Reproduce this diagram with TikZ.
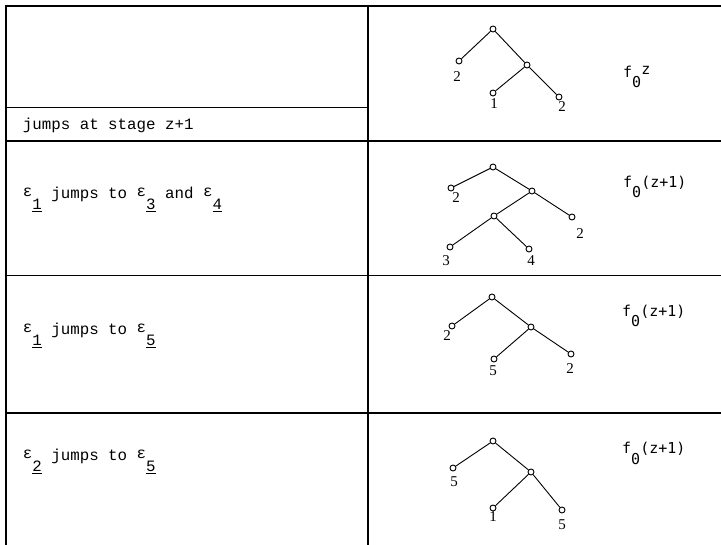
\documentclass[tikz,border=0pt]{standalone}
\usepackage{fontspec}
\setmainfont{Liberation Serif}
\newfontfamily\rowfont{Liberation Mono}
\newfontfamily\gfont{DejaVu Sans Mono}
\usepackage{tikz}
\usetikzlibrary{positioning}
\newcommand{\epsub}[1]{\makebox[0.6em][l]{\raisebox{2pt}{ε}}\raisebox{-11pt}{\underline{#1}}}
\newcommand{\fzero}[1]{f\raisebox{-10pt}{0}#1}
\tikzset{
  vtx/.style={draw, circle, inner sep=0pt, minimum size=6pt, line width=0.9pt, fill=white},
  branch/.style={line width=0.9pt},
  leafnum/.style={inner sep=0pt, font=\fontsize{15}{15}\selectfont},
  rowtext/.style={anchor=base west, inner sep=0pt, font=\rowfont\fontsize{15.8}{16}\selectfont},
  glabel/.style={anchor=base west, inner sep=0pt, font=\gfont\fontsize{15}{16}\selectfont},
  rule/.style={line width=1.1pt}
}

\begin{document}
\begin{tikzpicture}[x=1pt, y=-1pt]
  \useasboundingbox (0,0) rectangle (721,545);

  % table
  \draw[rule] (6,6) -- (721,6);
  \draw[rule] (6,5) -- (6,545);
  \draw[rule] (368,5) -- (368,545);
  \draw[rule] (6,107.5) -- (368,107.5);
  \draw[rule] (6,141) -- (721,141);
  \draw[rule] (6,275.5) -- (721,275.5);
  \draw[rule] (6,413) -- (721,413);

  % left column
  \node[rowtext] (stage) at (22.7,129.3) {jumps at stage z+1};
  \node[rowtext] (jumpA) at (22.7,199) {\epsub{1} jumps to \epsub{3} and \epsub{4}};
  \node[rowtext] (jumpB) at (22.7,335) {\epsub{1} jumps to \epsub{5}};
  \node[rowtext] (jumpC) at (22.7,461) {\epsub{2} jumps to \epsub{5}};

  % tree at stage z
  \node[vtx] (r1) at (493,29) {};
  \node[vtx] (a1) at (459,61) {};
  \node[vtx] (b1) at (527,65) {};
  \node[vtx] (c1) at (493,93) {};
  \node[vtx] (d1) at (559,97) {};
  \draw[branch] (a1) -- (r1) -- (b1) -- (d1);
  \draw[branch] (b1) -- (c1);
  \node[leafnum] (na1) at (457,77) {2};
  \node[leafnum] (nc1) at (494,104) {1};
  \node[leafnum] (nd1) at (562,107) {2};
  \node[glabel] (g1) at (623,78) {\fzero{\raisebox{3pt}{z}}};

  % tree after e1 -> e3, e4
  \node[vtx] (r2) at (493,167) {};
  \node[vtx] (a2) at (451,188) {};
  \node[vtx] (b2) at (532,191) {};
  \node[vtx] (e2) at (572,217) {};
  \node[vtx] (c2) at (494,216) {};
  \node[vtx] (d2) at (450,247) {};
  \node[vtx] (f2) at (529,249) {};
  \draw[branch] (a2) -- (r2) -- (b2) -- (e2);
  \draw[branch] (b2) -- (c2) -- (d2);
  \draw[branch] (c2) -- (f2);
  \node[leafnum] (na2) at (456,198) {2};
  \node[leafnum] (ne2) at (580,234) {2};
  \node[leafnum] (nd2) at (446,261) {3};
  \node[leafnum] (nf2) at (531,261) {4};
  \node[glabel] (g2) at (623,188) {\fzero{(z+1)}};

  % tree after e1 -> e5
  \node[vtx] (r3) at (492,297) {};
  \node[vtx] (a3) at (452,326) {};
  \node[vtx] (b3) at (531,327) {};
  \node[vtx] (c3) at (494,359) {};
  \node[vtx] (d3) at (571,354) {};
  \draw[branch] (a3) -- (r3) -- (b3) -- (d3);
  \draw[branch] (b3) -- (c3);
  \node[leafnum] (na3) at (447,336) {2};
  \node[leafnum] (nc3) at (493,371) {5};
  \node[leafnum] (nd3) at (570,369) {2};
  \node[glabel] (g3) at (622,317) {\fzero{(z+1)}};

  % tree after e2 -> e5
  \node[vtx] (r4) at (493,441) {};
  \node[vtx] (a4) at (453,468) {};
  \node[vtx] (b4) at (531,472) {};
  \node[vtx] (c4) at (493,508) {};
  \node[vtx] (d4) at (562,510) {};
  \draw[branch] (a4) -- (r4) -- (b4) -- (d4);
  \draw[branch] (b4) -- (c4);
  \node[leafnum] (na4) at (454,482) {5};
  \node[leafnum] (nc4) at (493,517) {1};
  \node[leafnum] (nd4) at (562,525) {5};
  \node[glabel] (g4) at (622,454) {\fzero{(z+1)}};
\end{tikzpicture}
\end{document}
